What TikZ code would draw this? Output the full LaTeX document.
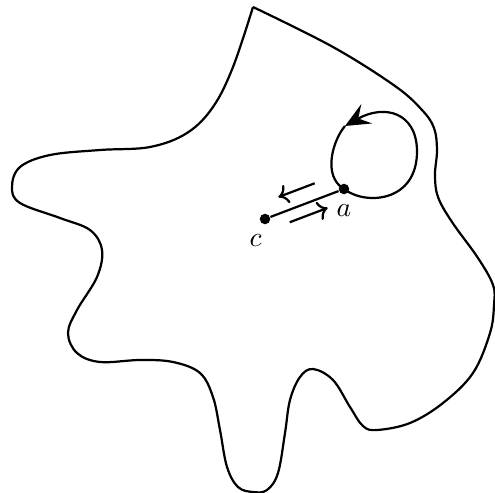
\documentclass[tikz,border=0pt]{standalone}
\usepackage{tikz}
\usetikzlibrary{arrows.meta,positioning,calc}

\begin{document}
\begin{tikzpicture}[
    x=0.0127cm, y=-0.0127cm,
    region/.style={thick, line join=round},
    dot/.style={circle, fill=black, inner sep=0pt, minimum size=3.8pt},
    flow/.style={thick, -{To[length=3.5pt, width=7pt]}},
    loopline/.style={thick},
    looparrow/.style={thick, -{Stealth[length=9pt, width=8pt, inset=3.5pt]}}
]
\useasboundingbox (0,0) rectangle (495,493);

% the region
\draw[region] plot[smooth, tension=0.6] coordinates {
    (253,7) (333,47) (395,86) (422,110) (434,128) (437,150) (435,175)
    (438,197) (452,222) (478,258) (493,285) (494,305) (490,333) (473,373)
    (443,403) (410,423) (377,430) (363,426) (350,407) (333,380) (313,369)
    (300,377) (290,400) (285,433) (278,473) (267,490) (253,492) (238,487)
    (227,467) (220,430) (213,397) (200,373) (173,362) (140,360) (100,362)
    (77,353) (68,333) (77,310) (97,277) (102,250) (90,230) (60,218)
    (20,203) (12,187) (20,167) (50,155) (100,150) (150,147) (187,133)
    (213,107) (233,67) (253,7)};

% points
\node[dot, label={below:$a$}] (a) at (344,189) {};
\node[dot, label={[xshift=-1.2mm]below:$c$}] (c) at (265,219) {};
\coordinate (tip) at (345,126);

\draw[thick] (a) -- (c);

% loop at a
\draw[looparrow] (a.center) .. controls (366,206) and (418,202) .. (417,150)
    .. controls (416,112) and (384,104) .. (tip);
\draw[loopline] (tip) .. controls (333,140) and (322,176) .. (a.center);

% directions along the segment
\draw[flow] ($(a)!0.3!(c)!0.2cm!-90:(c)$) -- ($(a)!0.76!(c)!0.2cm!-90:(c)$);
\draw[flow] ($(a)!0.74!(c)!0.15cm!90:(c)$) -- ($(a)!0.26!(c)!0.15cm!90:(c)$);
\end{tikzpicture}
\end{document}
